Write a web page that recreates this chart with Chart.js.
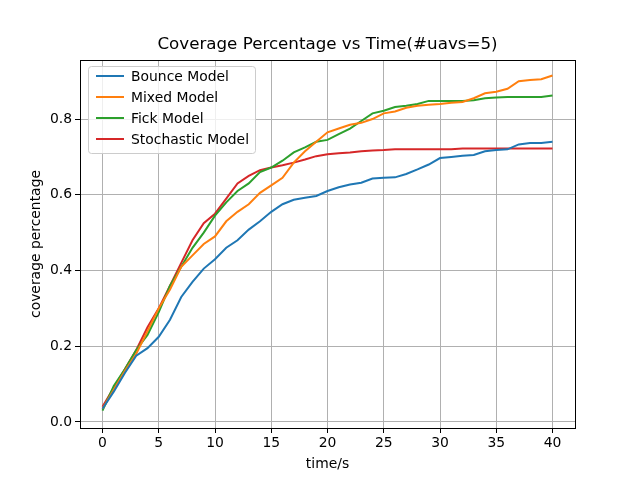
<!DOCTYPE html>
<html>
<head>
<meta charset="utf-8">
<script src="https://cdn.jsdelivr.net/npm/chart.js@4.4.0/dist/chart.umd.min.js"></script>
<style>
  html, body { margin: 0; padding: 0; background: #fff; }
  #wrap { width: 640px; height: 480px; }
</style>
</head>
<body>
<div id="wrap"><canvas id="coverageChart" width="640" height="480"></canvas></div>
<script>
// time axis (seconds)
const times = [];
for (let t = 0; t <= 40; t++) times.push(t);

const bounce = [0.035, 0.08, 0.13, 0.175, 0.195, 0.225, 0.27, 0.33, 0.37, 0.405, 0.43,
  0.46, 0.48, 0.508, 0.53, 0.555, 0.575, 0.587, 0.592, 0.597, 0.61,
  0.62, 0.627, 0.632, 0.643, 0.645, 0.646, 0.655, 0.667, 0.68, 0.697,
  0.70, 0.703, 0.705, 0.715, 0.718, 0.72, 0.733, 0.737, 0.737, 0.74];
const mixed = [0.035, 0.085, 0.135, 0.18, 0.24, 0.30, 0.35, 0.41, 0.44, 0.47, 0.49,
  0.53, 0.555, 0.575, 0.605, 0.625, 0.645, 0.685, 0.715, 0.74, 0.765,
  0.775, 0.785, 0.79, 0.80, 0.815, 0.82, 0.83, 0.835, 0.838, 0.84,
  0.843, 0.845, 0.855, 0.868, 0.872, 0.88, 0.90, 0.903, 0.905, 0.915];
const fick = [0.03, 0.095, 0.14, 0.19, 0.23, 0.29, 0.36, 0.41, 0.46, 0.50, 0.545,
  0.58, 0.61, 0.63, 0.66, 0.672, 0.69, 0.712, 0.725, 0.74, 0.745,
  0.76, 0.775, 0.795, 0.815, 0.822, 0.832, 0.835, 0.84, 0.848, 0.848,
  0.848, 0.848, 0.85, 0.855, 0.857, 0.858, 0.858, 0.858, 0.858, 0.862];
const stochastic = [0.04, 0.09, 0.14, 0.19, 0.25, 0.30, 0.36, 0.42, 0.48, 0.525, 0.55,
  0.59, 0.63, 0.65, 0.665, 0.672, 0.678, 0.685, 0.693, 0.702, 0.707,
  0.71, 0.712, 0.715, 0.717, 0.718, 0.72, 0.72, 0.72, 0.72, 0.72,
  0.72, 0.722, 0.722, 0.722, 0.722, 0.722, 0.722, 0.722, 0.722, 0.722];

const seriesNames = ['Bounce Model', 'Mixed Model', 'Fick Model', 'Stochastic Model'];
const xTicks = [0, 5, 10, 15, 20, 25, 30, 35, 40];
const yTicks = [0.0, 0.2, 0.4, 0.6, 0.8];

const titleText = 'Coverage Percentage vs Time(#uavs=5)';
const xLabel = 'time/s';
const yLabel = 'coverage percentage';

const colors = ['#1f77b4', '#ff7f0e', '#2ca02c', '#d62728'];
const FONT = '"DejaVu Sans", sans-serif';

function toPoints(arr) {
  return arr.map((v, i) => ({ x: times[i], y: v }));
}

// matplotlib style frame, title, axis labels and legend
const mplPlugin = {
  id: 'mplStyle',
  afterDraw(chart) {
    const ctx = chart.ctx;
    const a = chart.chartArea;
    ctx.save();
    // frame
    ctx.strokeStyle = '#000';
    ctx.lineWidth = 1;
    ctx.strokeRect(a.left + 0.5, a.top + 0.5, a.right - a.left, a.bottom - a.top);

    // title
    ctx.fillStyle = '#000';
    ctx.font = '16.7px ' + FONT;
    ctx.textAlign = 'center';
    ctx.textBaseline = 'alphabetic';
    ctx.fillText(titleText, (a.left + a.right) / 2, 49);

    // axis labels
    ctx.font = '13.9px ' + FONT;
    ctx.fillText(xLabel, (a.left + a.right) / 2, 468);
    ctx.save();
    ctx.translate(40, (a.top + a.bottom) / 2);
    ctx.rotate(-Math.PI / 2);
    ctx.fillText(yLabel, 0, 0);
    ctx.restore();

    // legend
    const lx = 88, ly = 66, lw = 167, lh = 87;
    ctx.beginPath();
    ctx.roundRect(lx + 0.5, ly + 0.5, lw, lh, 3);
    ctx.fillStyle = 'rgba(255,255,255,0.8)';
    ctx.fill();
    ctx.strokeStyle = '#cccccc';
    ctx.lineWidth = 1;
    ctx.stroke();
    ctx.textAlign = 'left';
    ctx.textBaseline = 'middle';
    chart.data.datasets.forEach((ds, i) => {
      const y = 76 + i * 21;
      ctx.strokeStyle = ds.borderColor;
      ctx.lineWidth = 2;
      ctx.beginPath();
      ctx.moveTo(96, y);
      ctx.lineTo(124, y);
      ctx.stroke();
      ctx.fillStyle = '#000';
      ctx.fillText(ds.label, 131, y + 1);
    });
    ctx.restore();
  }
};

const ctx = document.getElementById('coverageChart').getContext('2d');
const coverageChart = new Chart(ctx, {
  type: 'line',
  data: {
    datasets: [bounce, mixed, fick, stochastic].map((arr, i) => ({
      label: seriesNames[i],
      data: toPoints(arr),
      borderColor: colors[i],
      backgroundColor: colors[i],
      borderWidth: 2,
      pointRadius: 0,
      tension: 0,
      fill: false
    }))
  },
  options: {
    responsive: false,
    animation: false,
    devicePixelRatio: 1,
    layout: { padding: { top: 60, right: 65, left: 0, bottom: 0 } },
    plugins: {
      legend: { display: false },
      title: { display: false },
      tooltip: { enabled: false }
    },
    scales: {
      x: {
        type: 'linear',
        min: -2,
        max: 42,
        afterBuildTicks: scale => { scale.ticks = xTicks.map(v => ({ value: v })); },
        afterFit: scale => { scale.height = 52; },
        grid: { color: '#b0b0b0', lineWidth: 1, tickColor: '#000', tickLength: 5, drawOnChartArea: true },
        border: { color: '#000' },
        ticks: {
          color: '#000',
          padding: 2,
          maxRotation: 0,
          font: { family: FONT, size: 13.9 },
          callback: v => String(v)
        }
      },
      y: {
        type: 'linear',
        min: -0.016,
        max: 0.956,
        afterBuildTicks: scale => { scale.ticks = yTicks.map(v => ({ value: v })); },
        afterFit: scale => { scale.width = 80; },
        grid: { color: '#b0b0b0', lineWidth: 1, tickColor: '#000', tickLength: 5 },
        border: { color: '#000' },
        ticks: {
          color: '#000',
          padding: 3,
          font: { family: FONT, size: 13.9 },
          callback: v => Number(v).toFixed(1)
        }
      }
    }
  },
  plugins: [mplPlugin]
});
</script>
</body>
</html>
